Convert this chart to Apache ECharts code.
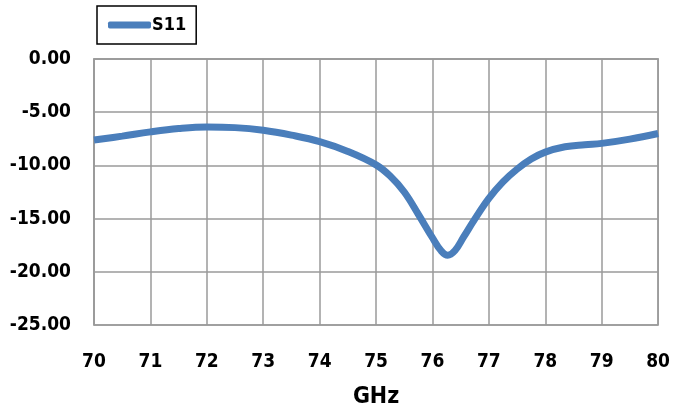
<!DOCTYPE html>
<html>
<head>
<meta charset="utf-8">
<script src="https://cdn.jsdelivr.net/npm/echarts@6/dist/echarts.min.js"></script>
<style>
  html, body { margin: 0; padding: 0; background: #fff; }
  #chart { width: 673px; height: 414px; }
</style>
</head>
<body>
<div id="chart"></div>
<script>
// Frequency sweep (GHz) and measured S11 (dB)
const freqGHz = [70, 70.5, 71, 71.5, 72, 72.5, 73, 73.5, 74, 74.5, 75, 75.25, 75.5, 75.75, 76, 76.15, 76.27, 76.4, 76.55, 76.75, 77, 77.25, 77.5, 77.75, 78, 78.35, 78.7, 79, 79.5, 80];
const s11dB   = [-7.62, -7.25, -6.85, -6.54, -6.39, -6.45, -6.7, -7.16, -7.77, -8.69, -9.95, -11.0, -12.5, -14.6, -16.8, -18.0, -18.45, -18.0, -16.75, -15.05, -13.1, -11.55, -10.35, -9.4, -8.75, -8.25, -8.05, -7.93, -7.53, -7.0];
const seriesName = 'S11';
const xAxisTitle = 'GHz';

const fontFamily = '"DejaVu Sans Condensed", "DejaVu Sans", sans-serif';
const gridColor = '#9a9a9a';

const chart = echarts.init(document.getElementById('chart'));
chart.setOption({
  animation: false,
  backgroundColor: '#ffffff',
  legend: {
    left: 97,
    top: 6,
    padding: [10, 10, 10, 11],
    borderColor: '#000',
    borderWidth: 1.5,
    itemWidth: 43,
    itemHeight: 7,
    icon: 'roundRect',
    textStyle: { fontFamily, fontWeight: 'bold', fontSize: 18, color: '#000', padding: [0, 0, 0, -4] },
    data: [seriesName]
  },
  grid: {
    left: 94, right: 12, top: 59, bottom: 83,
    show: true, borderColor: gridColor, borderWidth: 1.5
  },
  xAxis: {
    type: 'value',
    min: 70, max: 80, interval: 1,
    name: xAxisTitle,
    nameLocation: 'middle',
    nameGap: 61,
    nameTextStyle: { fontFamily, fontWeight: 'bold', fontSize: 23, color: '#000' },
    axisLine: { show: true, lineStyle: { color: gridColor, width: 1.5 } },
    axisTick: { show: false },
    axisLabel: { margin: 28, fontFamily, fontWeight: 'bold', fontSize: 19, color: '#000' },
    splitLine: { show: true, lineStyle: { color: gridColor, width: 1.5 } }
  },
  yAxis: {
    type: 'value',
    min: -25, max: 0, interval: 5,
    axisLine: { show: true, lineStyle: { color: gridColor, width: 1.5 } },
    axisTick: { show: false },
    axisLabel: {
      margin: 23, fontFamily, fontWeight: 'bold', fontSize: 19, color: '#000',
      formatter: v => v.toFixed(2)
    },
    splitLine: { show: true, lineStyle: { color: gridColor, width: 1.5 } }
  },
  series: [{
    name: seriesName,
    type: 'line',
    data: freqGHz.map((f, i) => [f, s11dB[i]]),
    smooth: 0.4,
    showSymbol: false,
    lineStyle: { color: '#4a7ebb', width: 7 },
    itemStyle: { color: '#4a7ebb' }
  }]
});
</script>
</body>
</html>
